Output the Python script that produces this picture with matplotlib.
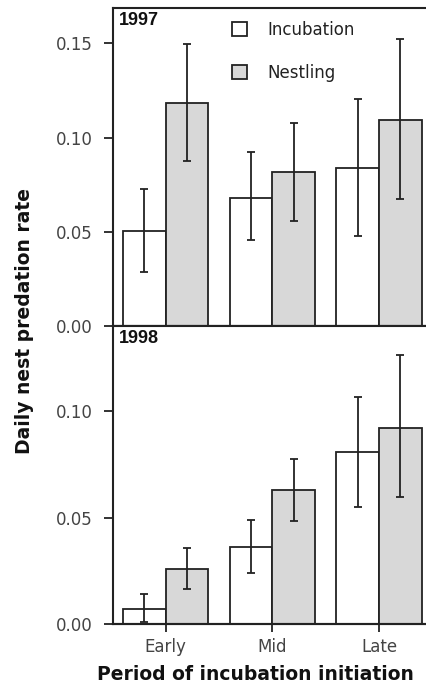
import matplotlib
matplotlib.use("Agg")
import matplotlib.pyplot as plt
import numpy as np

periods = ["Early", "Mid", "Late"]
series = ["Incubation", "Nestling"]

# 1997
inc_1997 = [0.0505, 0.0680, 0.0841]
inc_1997_lo = [0.0285, 0.0457, 0.0480]
inc_1997_hi = [0.0726, 0.0921, 0.1206]
nest_1997 = [0.1185, 0.0815, 0.1091]
nest_1997_lo = [0.0873, 0.0556, 0.0673]
nest_1997_hi = [0.1496, 0.1079, 0.1525]

# 1998
inc_1998 = [0.0072, 0.0363, 0.0809]
inc_1998_lo = [0.0008, 0.0238, 0.0552]
inc_1998_hi = [0.0142, 0.0487, 0.1067]
nest_1998 = [0.0258, 0.0631, 0.0920]
nest_1998_lo = [0.0164, 0.0484, 0.0596]
nest_1998_hi = [0.0358, 0.0776, 0.1264]

yticks_1997 = [0.00, 0.05, 0.10, 0.15]
yticks_1998 = [0.00, 0.05, 0.10]

plt.rcParams['font.family'] = ['DejaVu Sans']
W, H = 426, 690
fig = plt.figure(figsize=(W / 100, H / 100), dpi=100)

left = 113 / W
width = (W - 113) / W
ax1 = fig.add_axes([left, (H - 326) / H, width, (326 - 7.5) / H])
ax2 = fig.add_axes([left, (H - 624) / H, width, (624 - 326) / H])

x = np.arange(len(periods))
bw = 0.4
edge = '#222222'
tickcol = '#444444'


def panel(ax, inc, inc_lo, inc_hi, nest, nest_lo, nest_hi, ylim, yticks, year):
    inc = np.array(inc); nest = np.array(nest)
    b1 = ax.bar(x - bw / 2, inc, bw, color='white', edgecolor=edge, linewidth=1.3,
                label=series[0], zorder=2)
    b2 = ax.bar(x + bw / 2, nest, bw, color='#d8d8d8', edgecolor=edge, linewidth=1.3,
                label=series[1], zorder=2)
    ax.errorbar(x - bw / 2, inc, yerr=[inc - np.array(inc_lo), np.array(inc_hi) - inc],
                fmt='none', ecolor=edge, elinewidth=1.3, capsize=3, capthick=1.3, zorder=3)
    ax.errorbar(x + bw / 2, nest, yerr=[nest - np.array(nest_lo), np.array(nest_hi) - nest],
                fmt='none', ecolor=edge, elinewidth=1.3, capsize=3, capthick=1.3, zorder=3)
    ax.set_xlim(-0.494, 2.44)
    ax.set_ylim(0, ylim)
    ax.set_yticks(yticks)
    ax.set_yticklabels([f"{v:.2f}" for v in yticks])
    ax.axhline(0, color=edge, linewidth=1.5, zorder=4, clip_on=False)
    for s in ['left', 'top', 'bottom']:
        ax.spines[s].set_linewidth(1.5)
        ax.spines[s].set_color(edge)
    ax.spines['right'].set_visible(False)
    ax.tick_params(axis='y', direction='out', length=6.5, width=1.3, color=edge,
                   labelsize=12, labelcolor=tickcol, pad=8)
    ax.text(0.02, 0.985, year, transform=ax.transAxes, ha='left', va='top',
            fontsize=13, fontweight='bold', family='Liberation Sans', color='#111111')
    return b1, b2


b1, b2 = panel(ax1, inc_1997, inc_1997_lo, inc_1997_hi, nest_1997, nest_1997_lo, nest_1997_hi,
               0.169, yticks_1997, "1997")
panel(ax2, inc_1998, inc_1998_lo, inc_1998_hi, nest_1998, nest_1998_lo, nest_1998_hi,
      0.140, yticks_1998, "1998")

ax1.set_xticks([])
ax2.set_xticks(x)
ax2.set_xticklabels(periods)
ax2.tick_params(axis='x', direction='out', length=6, width=1.3, color=edge,
                labelsize=12, labelcolor=tickcol, pad=4)

ax1.legend(handles=[b1, b2], loc='upper left', bbox_to_anchor=(0.333, 1.005),
           frameon=False, fontsize=12, handlelength=0.9, handleheight=0.9,
           handletextpad=1.2, labelspacing=1.5, labelcolor='#222222')

fig.text(25 / W, 1 - 321.5 / H, "Daily nest predation rate", rotation=90,
         ha='center', va='center', fontsize=13.5, fontweight='bold', color='#111111')
fig.text(255.5 / W, 1 - 675 / H, "Period of incubation initiation",
         ha='center', va='center', fontsize=13.5, fontweight='bold', color='#111111')

fig.savefig("out.png", dpi=100)
